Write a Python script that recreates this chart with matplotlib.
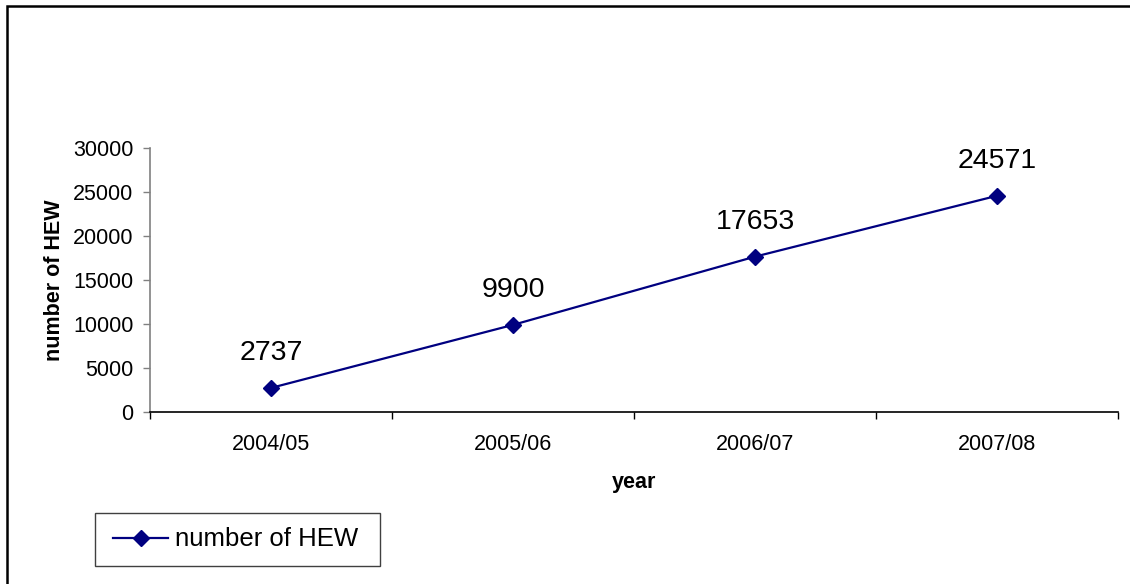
import matplotlib
matplotlib.use("Agg")
import matplotlib.pyplot as plt
from matplotlib.patches import Rectangle

years = ["2004/05", "2005/06", "2006/07", "2007/08"]
hew = [2737, 9900, 17653, 24571]
yticks = [0, 5000, 10000, 15000, 20000, 25000, 30000]

plt.rcParams['font.family'] = ['Liberation Sans', 'DejaVu Sans']

fig = plt.figure(figsize=(11.3, 5.84), dpi=100)
ax = fig.add_axes([150/1130, 1-412/584, (1118-150)/1130, (412-148)/584])

xpos = [i + 0.5 for i in range(len(years))]
line, = ax.plot(xpos, hew, color='#000080', lw=1.6, marker='D', markersize=8,
                markerfacecolor='#000080', markeredgecolor='#000080', label='number of HEW')
for x, v in zip(xpos, hew):
    ax.annotate(str(v), (x, v), xytext=(0, 25), textcoords='offset points',
                ha='center', va='center', fontsize=20.5)

ax.set_xlim(0, len(years))
ax.set_ylim(0, 30000)
ax.set_yticks(yticks)
ax.set_yticklabels([str(t) for t in yticks], fontsize=15.5)
ax.set_xticks(range(len(years) + 1))
ax.set_xticklabels([])
ax.set_xticks(xpos, minor=True)
ax.set_xticklabels(years, minor=True, fontsize=15.5)
ax.tick_params(axis='x', which='major', direction='out', length=5, width=1, color='black')
ax.tick_params(axis='x', which='minor', length=0, pad=16)
ax.tick_params(axis='y', direction='out', length=5, width=1, color='#808080', pad=7)

for s in ['top', 'right']:
    ax.spines[s].set_visible(False)
ax.spines['left'].set_color('#808080')
ax.spines['left'].set_linewidth(1.2)
ax.spines['bottom'].set_color('black')
ax.spines['bottom'].set_linewidth(1.2)

ax.set_xlabel('year', fontsize=15.5, fontweight='bold', labelpad=12)
ax.set_ylabel('number of HEW', fontsize=15.5, fontweight='bold', labelpad=6)

leg = fig.legend(handles=[line], loc='center left',
                 bbox_to_anchor=(113/1130, 1-539.5/584),
                 fontsize=18.5, frameon=False,
                 handlelength=2.15, handletextpad=0.25, borderpad=0, borderaxespad=0)
fig.patches.append(Rectangle((95/1130, 1-566/584), (380-95)/1130, (566-513)/584,
                             transform=fig.transFigure, fill=False,
                             edgecolor='#404040', linewidth=1.0))

fig.patches.append(Rectangle((7/1130, -0.1), 1.2, 1.1 - 6/584, transform=fig.transFigure,
                             fill=False, edgecolor='black', linewidth=1.8))

fig.savefig('out.png', dpi=100)
